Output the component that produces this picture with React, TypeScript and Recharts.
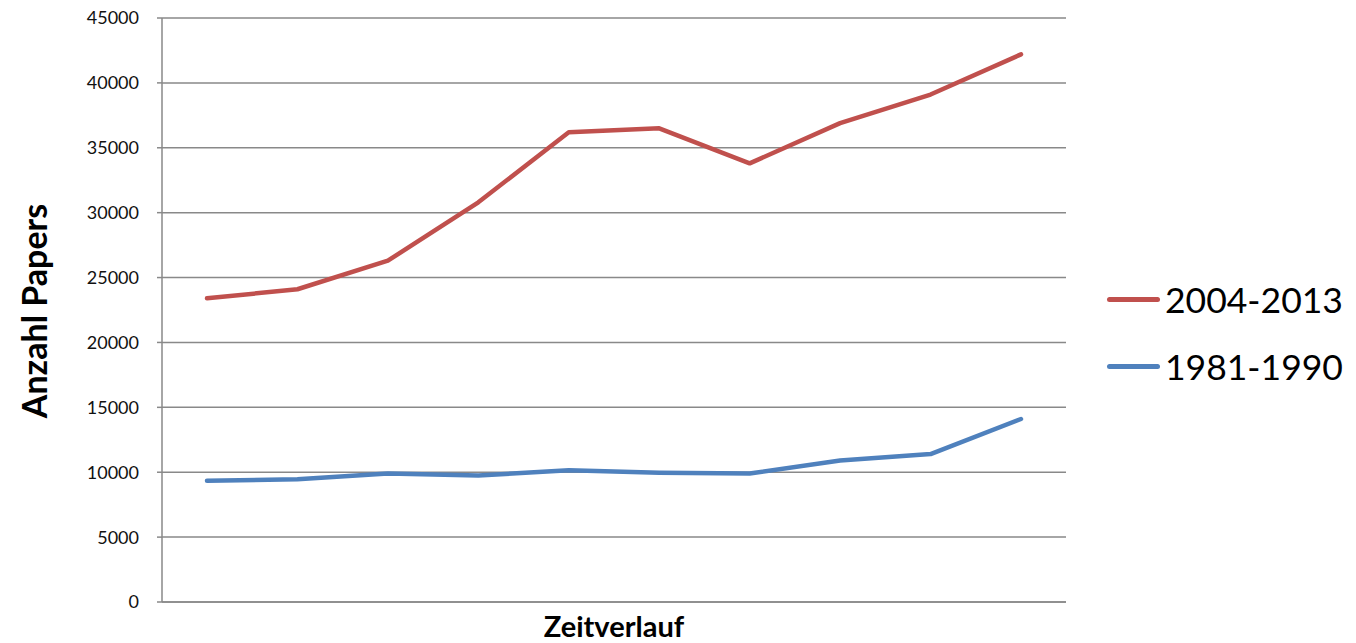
import { LineChart, Line, XAxis, YAxis, CartesianGrid } from 'recharts';

const CATEGORIES = ['1', '2', '3', '4', '5', '6', '7', '8', '9', '10'];
const SERIES_2004_2013 = [23400, 24100, 26300, 30800, 36200, 36500, 33800, 36900, 39100, 42200];
const SERIES_1981_1990 = [9350, 9450, 9900, 9750, 10150, 9950, 9900, 10900, 11400, 14100];
const Y_TICKS = [0, 5000, 10000, 15000, 20000, 25000, 30000, 35000, 40000, 45000];

const SERIES = [
  { key: 'recent', name: '2004-2013', color: '#C0504D' },
  { key: 'early', name: '1981-1990', color: '#4F81BD' },
];

const data = CATEGORIES.map((c, i) => ({
  name: c,
  recent: SERIES_2004_2013[i],
  early: SERIES_1981_1990[i],
}));

const FONT = 'Lato, "Open Sans", sans-serif';
const GRID = '#898989';

export default function App() {
  return (
    <div style={{ position: 'relative', width: 1340, height: 643, marginTop: -8, fontFamily: FONT, background: '#fff' }}>
      <LineChart width={1340} height={643} data={data} margin={{ top: 18, right: 282, bottom: 40, left: 0 }}>
        <CartesianGrid horizontal vertical={false} stroke={GRID} strokeWidth={1.5} />
        <XAxis
          dataKey="name"
          tick={false}
          tickLine={false}
          height={1}
          padding={{ left: 45, right: 45 }}
          axisLine={{ stroke: GRID, strokeWidth: 1.5 }}
        />
        <YAxis
          width={154}
          domain={[0, 45000]}
          ticks={Y_TICKS}
          interval={0}
          tickSize={5}
          tickMargin={18}
          tickLine={{ stroke: GRID, strokeWidth: 1.5 }}
          axisLine={{ stroke: GRID, strokeWidth: 1.5 }}
          tick={{ fill: '#111', fontSize: 18, fontFamily: FONT }}
        />
        {SERIES.map((s) => (
          <Line
            key={s.key}
            type="linear"
            dataKey={s.key}
            name={s.name}
            stroke={s.color}
            strokeWidth={4.5}
            strokeLinecap="round"
            strokeLinejoin="round"
            dot={false}
            activeDot={false}
            isAnimationActive={false}
          />
        ))}
      </LineChart>

      <div
        style={{
          position: 'absolute', left: 25, top: 311,
          transform: 'translate(-50%, -50%) rotate(-90deg)',
          whiteSpace: 'nowrap', fontWeight: 700, fontSize: 34, color: '#000',
        }}
      >
        Anzahl Papers
      </div>
      <div
        style={{
          position: 'absolute', left: 606, top: 625,
          transform: 'translate(-50%, -50%)',
          whiteSpace: 'nowrap', fontWeight: 700, fontSize: 29, color: '#000',
        }}
      >
        Zeitverlauf
      </div>

      <div style={{ position: 'absolute', left: 1099, top: 266 }}>
        {SERIES.map((s) => (
          <div key={s.key} style={{ display: 'flex', alignItems: 'center', height: 67 }}>
            <div style={{ width: 53, height: 5, borderRadius: 3, background: s.color }} />
            <span style={{ marginLeft: 5, fontSize: 35.5, color: '#000', whiteSpace: 'nowrap' }}>{s.name}</span>
          </div>
        ))}
      </div>
    </div>
  );
}
